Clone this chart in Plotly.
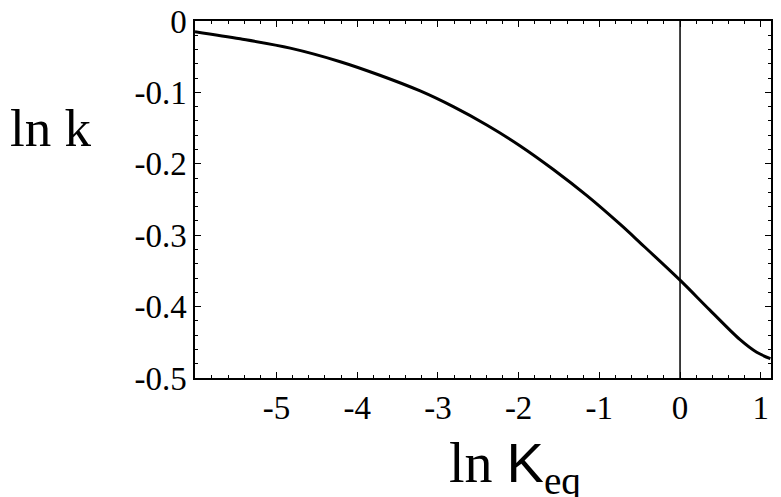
import plotly.graph_objects as go

# curve (ln Keq vs ln k)
ln_keq = [-6.01, -5.45, -4.83, -4.21, -3.72, -3.22, -2.81, -2.39, -1.98, -1.57,
          -1.15, -0.74, -0.50, 0.0, 0.37, 0.74, 0.95, 1.12]
ln_k = [-0.015, -0.025, -0.038, -0.057, -0.076, -0.098, -0.120, -0.146, -0.175, -0.208,
        -0.245, -0.285, -0.310, -0.363, -0.405, -0.446, -0.464, -0.473]

x_ticks = [-5, -4, -3, -2, -1, 0, 1]
y_ticks = [0, -0.1, -0.2, -0.3, -0.4, -0.5]
y_tick_text = ["0", "-0.1", "-0.2", "-0.3", "-0.4", "-0.5"]

serif = "Liberation Serif, Times New Roman, serif"

fig = go.Figure()
fig.add_trace(go.Scatter(x=ln_keq, y=ln_k, mode="lines",
                         line=dict(color="black", width=3, shape="spline", smoothing=0.9),
                         hoverinfo="skip"))
fig.add_trace(go.Scatter(x=[0, 0], y=[-0.5, 0], mode="lines",
                         line=dict(color="black", width=1.5), hoverinfo="skip"))

axis_common = dict(
    showgrid=False, zeroline=False, showline=True, linecolor="black", linewidth=1.5,
    mirror="allticks", ticks="inside", ticklen=6, tickcolor="black", tickwidth=1,
    tickfont=dict(family=serif, size=33, color="black"), automargin=False,
    ticklabeloverflow="allow",
)

fig.update_xaxes(range=[-6.01, 1.127], tickvals=x_ticks, ticktext=[str(v) for v in x_ticks],
                 minor=dict(ticks="inside", dtick=0.2, tick0=0, ticklen=3, tickcolor="black"),
                 ticklabelstandoff=0, **axis_common)
fig.update_yaxes(range=[-0.5, 0], tickvals=y_ticks, ticktext=y_tick_text,
                 minor=dict(ticks="inside", dtick=0.02, tick0=0, ticklen=3, tickcolor="black"),
                 ticklabelstandoff=0, **axis_common)

fig.add_annotation(text="ln k", xref="paper", yref="paper", x=-0.3247, y=0.70,
                   xanchor="left", yanchor="middle", showarrow=False,
                   font=dict(family=serif, size=53, color="black"))
fig.add_annotation(text="ln <span style='font-family:Liberation Sans'>K</span><sub>eq</sub>",
                   xref="paper", yref="paper", x=0.556, y=-0.25,
                   xanchor="center", yanchor="middle", showarrow=False,
                   font=dict(family=serif, size=56, color="black"))

# page body adds an 8px offset, so margins are shifted to land the frame where the reference has it
fig.update_layout(
    width=781, height=497,
    margin=dict(l=187, r=18, t=13, b=127),
    paper_bgcolor="white", plot_bgcolor="white",
    showlegend=False,
)

fig.write_html("out.html")
